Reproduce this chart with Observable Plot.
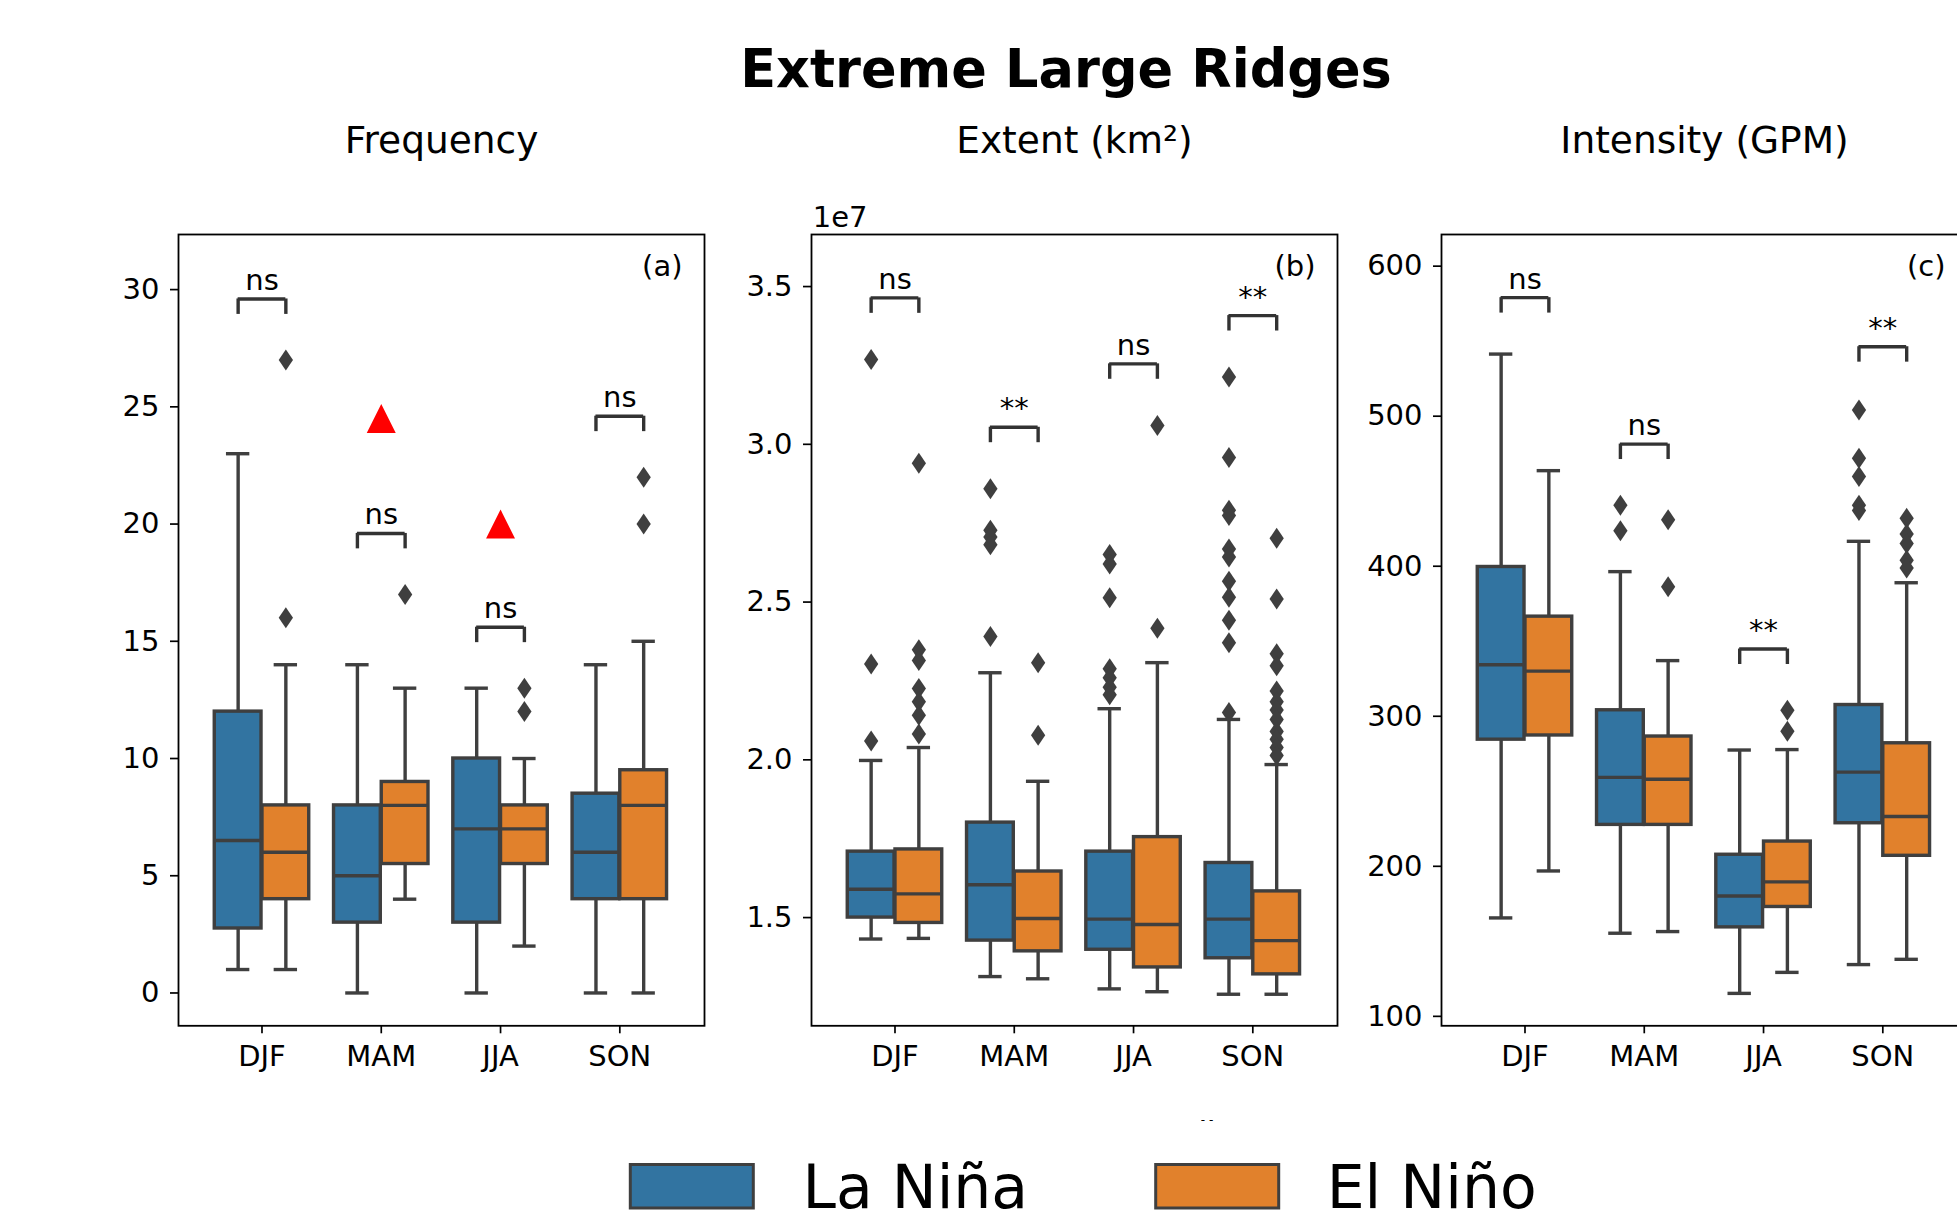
<!DOCTYPE html>
<html><head><meta charset="utf-8">
<script src="https://cdn.jsdelivr.net/npm/d3@7"></script>
<script src="https://cdn.jsdelivr.net/npm/@observablehq/plot@0.6"></script>
<style>
html,body{margin:0;padding:0;overflow:hidden;background:#fff;}
#root{position:relative;width:1957px;height:1216px;overflow:hidden;background:#fff;font-family:"DejaVu Sans";}
.panel{position:absolute;}
#overlay{position:absolute;left:0;top:0;}
</style></head><body><div id="root"></div>
<script>
// ---------- categories ----------
const seasons = ["DJF", "MAM", "JJA", "SON"];
const groups = ["La Niña", "El Niño"];
const groupColors = ["#3274a1", "#e1812c"];
const mainTitle = "Extreme Large Ridges";
const panelTitles = ["Frequency", "Extent (km²)", "Intensity (GPM)"];
const panelLabels = ["(a)", "(b)", "(c)"];

// ---------- box stats: [whisker low, Q1, median, Q3, whisker high] per season ----------
const freqLaNina = [[1, 2.75, 6.5, 12, 23], [0, 3, 5, 8, 14], [0, 3, 7, 10, 13], [0, 4, 6, 8.5, 14]];
const freqElNino = [[1, 4, 6, 8, 14], [4, 5.5, 8, 9, 13], [2, 5.5, 7, 8, 10], [0, 4, 8, 9.5, 15]];
const freqOutLaNina = [[], [], [], []];
const freqOutElNino = [[27, 16], [17], [13, 12], [22, 20]];
const freqTriangleSeasons = ["MAM", "JJA"];
const freqTriangleValues = [24.5, 20];
const freqSig = ["ns", "ns", "ns", "ns"];
const freqBracket = [29.6, 19.6, 15.6, 24.6];
const freqTicks = [0, 5, 10, 15, 20, 25, 30];

// extent in units of 1e7 km²
const extentLaNina = [[1.432, 1.500, 1.590, 1.709, 1.998], [1.313, 1.427, 1.604, 1.801, 2.276], [1.274, 1.398, 1.495, 1.709, 2.162], [1.257, 1.371, 1.495, 1.673, 2.128]];
const extentElNino = [[1.434, 1.483, 1.575, 1.716, 2.039], [1.306, 1.393, 1.497, 1.646, 1.932], [1.265, 1.342, 1.478, 1.755, 2.308], [1.257, 1.320, 1.427, 1.583, 1.985]];
const extentOutLaNina = [[3.269, 2.304, 2.060], [2.859, 2.728, 2.706, 2.682, 2.391], [2.651, 2.621, 2.514, 2.289, 2.260, 2.230, 2.206], [3.213, 2.958, 2.791, 2.774, 2.668, 2.643, 2.566, 2.515, 2.442, 2.371, 2.150]];
const extentOutElNino = [[2.940, 2.349, 2.315, 2.226, 2.184, 2.141, 2.082], [2.308, 2.078], [3.060, 2.417], [2.702, 2.510, 2.336, 2.298, 2.218, 2.184, 2.158, 2.128, 2.090, 2.065, 2.039, 2.014]];
const extentSig = ["ns", "**", "ns", "**"];
const extentBracket = [3.464, 3.054, 3.255, 3.408];
const extentTicks = [1.5, 2.0, 2.5, 3.0, 3.5];
const extentExponent = "1e7";

const intensityLaNina = [[165.6, 284.4, 334.3, 399.5, 541.4], [155.4, 227.6, 259.3, 304, 396.4], [115.3, 159.3, 180.2, 207.7, 277.5], [134.5, 228.7, 262.8, 307.5, 416.6]];
const intensityElNino = [[196.9, 287.2, 330.1, 366.4, 463.7], [156.5, 227.6, 258, 286.5, 337.1], [129.3, 172.9, 189.6, 216.5, 277.8], [138, 207, 233.2, 282, 389]];
const intensityOutLaNina = [[], [440.7, 423.6], [], [504.1, 472, 459.8, 440.7, 437.2]];
const intensityOutElNino = [[], [430.9, 386.3], [304, 290], [431.9, 421.5, 415.2, 404, 398.8]];
const intensitySig = ["ns", "ns", "**", "**"];
const intensityBracket = [579, 481.4, 344.8, 546.3];
const intensityTicks = [100, 200, 300, 400, 500, 600];

// ---------- layout / style ----------
const edge = "#3f3f3f";
const lw = 3.4;
const frameTop = 234, frameH = 791.3, frameW = 526;
const frameLefts = [178.3, 810.7, 1441];
const yDomains = [[-1.40, 32.35], [1.157, 3.665], [93.7, 621.1]];
const xDomain = [-0.7, 3.71];
const mL = 130, mR = 14, mT = 100, mB = 70;

const thinDiamond = {draw(ctx, size) {
  const r = Math.sqrt(size / Math.PI);
  ctx.moveTo(0, -r); ctx.lineTo(0.68 * r, 0); ctx.lineTo(0, r); ctx.lineTo(-0.68 * r, 0); ctx.closePath();
}};
const triUp = {draw(ctx, size) {
  const r = Math.sqrt(size / Math.PI);
  ctx.moveTo(0, -r); ctx.lineTo(r, r); ctx.lineTo(-r, r); ctx.closePath();
}};

const root = document.getElementById("root");

function makePanel(k, statsLN, statsEN, outLN, outEN, sig, bracket, ticks, tickFmt, extraMarks) {
  const rows = [];
  [statsLN, statsEN].forEach((g, gi) => g.forEach((s, si) => rows.push({
    si, gi, cx: si + (gi ? 0.2 : -0.2), low: s[0], q1: s[1], med: s[2], q3: s[3], high: s[4]
  })));
  const outs = [];
  [outLN, outEN].forEach((g, gi) => g.forEach((vals, si) => vals.forEach(v => outs.push({cx: si + (gi ? 0.2 : -0.2), v}))));
  const bw = 0.4 * 0.98, cw = bw * 0.5;
  const yd = yDomains[k];
  const leg = (yd[1] - yd[0]) * 0.0195;
  const br = seasons.map((s, si) => ({si, y: bracket[si], sig: sig[si]}));
  const width = mL + frameW + mR, height = mT + frameH + mB;
  const marks = [
    Plot.ruleX(rows, {x: "cx", y1: "low", y2: "q1", stroke: edge, strokeWidth: lw}),
    Plot.ruleX(rows, {x: "cx", y1: "q3", y2: "high", stroke: edge, strokeWidth: lw}),
    Plot.ruleY(rows, {y: "low", x1: d => d.cx - cw / 2, x2: d => d.cx + cw / 2, stroke: edge, strokeWidth: lw}),
    Plot.ruleY(rows, {y: "high", x1: d => d.cx - cw / 2, x2: d => d.cx + cw / 2, stroke: edge, strokeWidth: lw}),
    Plot.rect(rows.filter(d => d.gi === 0), {x1: d => d.cx - bw / 2, x2: d => d.cx + bw / 2, y1: "q1", y2: "q3", fill: groupColors[0], stroke: edge, strokeWidth: lw, inset: 0}),
    Plot.rect(rows.filter(d => d.gi === 1), {x1: d => d.cx - bw / 2, x2: d => d.cx + bw / 2, y1: "q1", y2: "q3", fill: groupColors[1], stroke: edge, strokeWidth: lw, inset: 0}),
    Plot.ruleY(rows, {y: "med", x1: d => d.cx - bw / 2, x2: d => d.cx + bw / 2, stroke: edge, strokeWidth: lw}),
    Plot.dot(outs, {x: "cx", y: "v", symbol: thinDiamond, r: 10.5, fill: edge, stroke: "none"}),
    Plot.ruleY(br, {y: "y", x1: d => d.si - 0.2, x2: d => d.si + 0.2, stroke: "#333", strokeWidth: lw}),
    Plot.ruleX(br, {x: d => d.si - 0.2, y1: d => d.y - leg, y2: "y", stroke: "#333", strokeWidth: lw}),
    Plot.ruleX(br, {x: d => d.si + 0.2, y1: d => d.y - leg, y2: "y", stroke: "#333", strokeWidth: lw}),
    Plot.text(br, {x: "si", y: "y", text: "sig", dy: -9, lineAnchor: "bottom", fill: "black"}),
    ...(extraMarks || []),
    Plot.frame({stroke: "black", strokeWidth: 1.8}),
    Plot.axisY({ticks, tickFormat: tickFmt, tickSize: 8, tickPadding: 11, strokeWidth: 1.7}),
    Plot.axisX({ticks: [0, 1, 2, 3], tickFormat: i => seasons[i], tickSize: 8, tickPadding: 12, strokeWidth: 1.7}),
    Plot.text([panelTitles[k]], {frameAnchor: "top", dy: -81, lineAnchor: "bottom", fontSize: 37.5, fill: "black"}),
    Plot.text([panelLabels[k]], {frameAnchor: "top-right", dx: -22, dy: 42, lineAnchor: "bottom", textAnchor: "end", fill: "black"})
  ];
  const chart = Plot.plot({
    width, height,
    marginLeft: mL, marginRight: mR, marginTop: mT, marginBottom: mB,
    x: {type: "linear", domain: xDomain, label: null},
    y: {type: "linear", domain: yd, label: null},
    style: {fontFamily: "DejaVu Sans", fontSize: "29px", color: "black", background: "transparent", maxWidth: "none", overflow: "visible"},
    marks
  });
  const div = document.createElement("div");
  div.className = "panel";
  div.style.left = (frameLefts[k] - mL) + "px";
  div.style.top = (frameTop - mT) + "px";
  div.style.width = width + "px";
  div.style.height = height + "px";
  div.appendChild(chart);
  root.appendChild(div);
}

const triRows = freqTriangleSeasons.map((s, i) => ({si: seasons.indexOf(s), v: freqTriangleValues[i]}));
makePanel(0, freqLaNina, freqElNino, freqOutLaNina, freqOutElNino, freqSig, freqBracket, freqTicks, d => String(d),
  [Plot.dot(triRows, {x: "si", y: "v", symbol: triUp, r: 14.5, fill: "red", stroke: "none"})]);
makePanel(1, extentLaNina, extentElNino, extentOutLaNina, extentOutElNino, extentSig, extentBracket, extentTicks, d => d.toFixed(1),
  [Plot.text([extentExponent], {frameAnchor: "top-left", dx: 1.3, dy: -7, lineAnchor: "bottom", textAnchor: "start", fill: "black"})]);
makePanel(2, intensityLaNina, intensityElNino, intensityOutLaNina, intensityOutElNino, intensitySig, intensityBracket, intensityTicks, d => String(d));

// ---------- title and legend overlay ----------
const svg = d3.select(root).append("svg").attr("id", "overlay")
  .attr("width", 1957).attr("height", 1216)
  .style("font-family", "DejaVu Sans");
svg.append("text").attr("x", 1066).attr("y", 87.4).attr("text-anchor", "middle")
  .attr("font-size", 52.5).attr("font-weight", "bold").attr("fill", "black").text(mainTitle);
svg.append("text").attr("x", 1207).attr("y", 1124).attr("text-anchor", "middle")
  .attr("font-size", 12).attr("fill", "black").text("- -");
const legendBoxX = [630.3, 1155.7];
const legendTextX = [802.5, 1326.7];
groups.forEach((g, i) => {
  svg.append("rect").attr("x", legendBoxX[i]).attr("y", 1164.5).attr("width", 123).attr("height", 43.5)
    .attr("fill", groupColors[i]).attr("stroke", edge).attr("stroke-width", 3);
  svg.append("text").attr("x", legendTextX[i]).attr("y", 1208).attr("font-size", 60).attr("fill", "black").text(g);
});
</script></body></html>
